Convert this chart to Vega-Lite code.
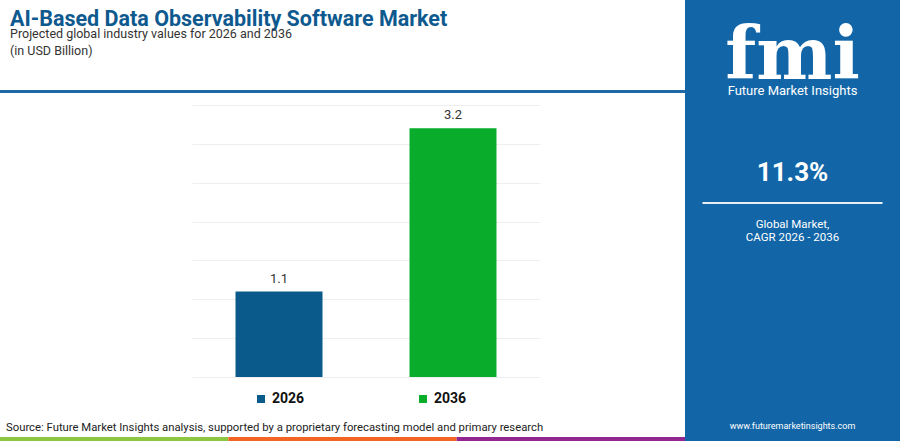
{
  "$schema": "https://vega.github.io/schema/vega-lite/v6.json",
  "padding": 0,
  "background": "white",
  "spacing": 0,
  "config": {"view": {"stroke": null}, "font": "Roboto", "title": {"font": "Roboto"}},
  "hconcat": [
    {
      "spacing": 0,
      "resolve": {"scale": {"color": "independent"}, "legend": {"color": "independent"}},
      "vconcat": [
        {
          "width": 685,
          "height": 90,
          "view": {"fill": "white"},
          "data": {"values": []},
          "mark": "text",
          "title": {
            "text": "AI-Based Data Observability Software Market",
            "subtitle": ["Projected global industry values for 2026 and 2036", "(in USD Billion)"],
            "anchor": "start",
            "frame": "group",
            "dx": 10,
            "offset": -57,
            "fontSize": 21.5,
            "fontWeight": "bold",
            "color": "#0e5a8f",
            "subtitleFontSize": 12.5,
            "subtitleColor": "#333333",
            "subtitlePadding": -2.5,
            "subtitleLineHeight": 17
          }
        },
        {"width": 685, "height": 3, "view": {"fill": "#1f6aa6"}, "data": {"values": []}, "mark": "text"},
        {"width": 685, "height": 12, "view": {"fill": "white"}, "data": {"values": []}, "mark": "text"},
        {
          "spacing": 0,
          "hconcat": [
            {"width": 192, "height": 272, "view": {"fill": "white"}, "data": {"values": []}, "mark": "text"},
            {
              "width": 348,
              "height": 272,
              "data": {"values": [
                {"year": "2026", "value": 1.1},
                {"year": "2036", "value": 3.2}
              ]},
              "encoding": {
                "x": {"field": "year", "type": "nominal", "axis": null,
                      "scale": {"paddingInner": 0.5, "paddingOuter": 0.25}},
                "y": {"field": "value", "type": "quantitative",
                      "scale": {"domain": [0, 3.5]},
                      "axis": {"values": [0, 0.5, 1, 1.5, 2, 2.5, 3, 3.5], "labels": false, "ticks": false,
                               "domain": false, "title": null, "grid": true, "gridColor": "#eeeeee"}}
              },
              "layer": [
                {
                  "mark": {"type": "bar"},
                  "encoding": {
                    "color": {
                      "field": "year", "type": "nominal",
                      "scale": {"range": ["#0b5a8c", "#09ad2b"]},
                      "legend": {
                        "title": null, "orient": "none", "legendX": 254, "legendY": 287,
                        "direction": "horizontal", "symbolType": "square", "symbolSize": 64,
                        "symbolStrokeWidth": 0, "labelFontSize": 14, "labelFontWeight": "bold",
                        "labelColor": "#111111", "labelOffset": 4, "columnPadding": 111, "padding": 0
                      }
                    }
                  }
                },
                {
                  "mark": {"type": "text", "baseline": "bottom", "dy": -6, "fontSize": 13, "color": "#333333"},
                  "encoding": {"text": {"field": "value", "type": "quantitative", "format": ".1f"}}
                }
              ]
            }
          ]
        },
        {"width": 685, "height": 15, "view": {"fill": "white"}, "data": {"values": []}, "mark": "text"},
        {
          "width": 685,
          "height": 6,
          "data": {"values": [{"part": "1"}, {"part": "2"}, {"part": "3"}]},
          "mark": "bar",
          "encoding": {
            "x": {"field": "part", "type": "nominal", "axis": null,
                  "scale": {"paddingInner": 0, "paddingOuter": 0}},
            "color": {"field": "part", "type": "nominal", "legend": null,
                      "scale": {"range": ["#8dc63f", "#f26522", "#92278f"]}}
          },
          "title": {
            "text": "Source: Future Market Insights analysis, supported by a proprietary forecasting model and primary research",
            "anchor": "start",
            "frame": "group",
            "dx": 6,
            "offset": 4,
            "fontSize": 11.3,
            "fontWeight": "normal",
            "color": "#222222"
          }
        }
      ]
    },
    {
      "spacing": 0,
      "bounds": "flush",
      "vconcat": [
        {"width": 215, "height": 104, "view": {"fill": "#1266a8"}, "data": {"values": []}, "mark": "text"},
        {
          "width": 215,
          "height": 98,
          "view": {"fill": "#1266a8"},
          "data": {"values": []},
          "mark": "text",
          "title": {
            "text": "fmi",
            "subtitle": "Future Market Insights",
            "anchor": "middle",
            "frame": "group",
            "offset": 5,
            "font": "DejaVu Serif",
            "fontSize": 72,
            "fontWeight": "bold",
            "color": "white",
            "subtitleFont": "Roboto",
            "subtitleFontSize": 13,
            "subtitleColor": "white",
            "subtitlePadding": -9.4
          }
        },
        {
          "width": 215,
          "height": 2,
          "view": {"fill": "#1266a8"},
          "data": {"values": [{"k": "cagr"}]},
          "mark": {"type": "bar", "color": "#e6eef6"},
          "encoding": {
            "x": {"field": "k", "type": "nominal", "axis": null,
                  "scale": {"paddingInner": 0, "paddingOuter": 0.097}}
          },
          "title": {
            "text": "11.3%",
            "anchor": "middle",
            "frame": "group",
            "offset": 16.5,
            "fontSize": 26,
            "fontWeight": "bold",
            "color": "white"
          }
        },
        {"width": 215, "height": 40, "view": {"fill": "#1266a8"}, "data": {"values": []}, "mark": "text"},
        {
          "width": 215,
          "height": 188,
          "view": {"fill": "#1266a8"},
          "data": {"values": []},
          "mark": "text",
          "title": {
            "text": ["Global Market,", "CAGR 2026 - 2036"],
            "anchor": "middle",
            "frame": "group",
            "offset": 1,
            "fontSize": 11.5,
            "lineHeight": 12.5,
            "fontWeight": "normal",
            "color": "white"
          }
        },
        {
          "width": 215,
          "height": 9,
          "view": {"fill": "#1266a8"},
          "data": {"values": []},
          "mark": "text",
          "title": {
            "text": "www.futuremarketinsights.com",
            "anchor": "middle",
            "frame": "group",
            "offset": 1,
            "fontSize": 9,
            "fontWeight": "normal",
            "color": "white"
          }
        }
      ]
    }
  ]
}
